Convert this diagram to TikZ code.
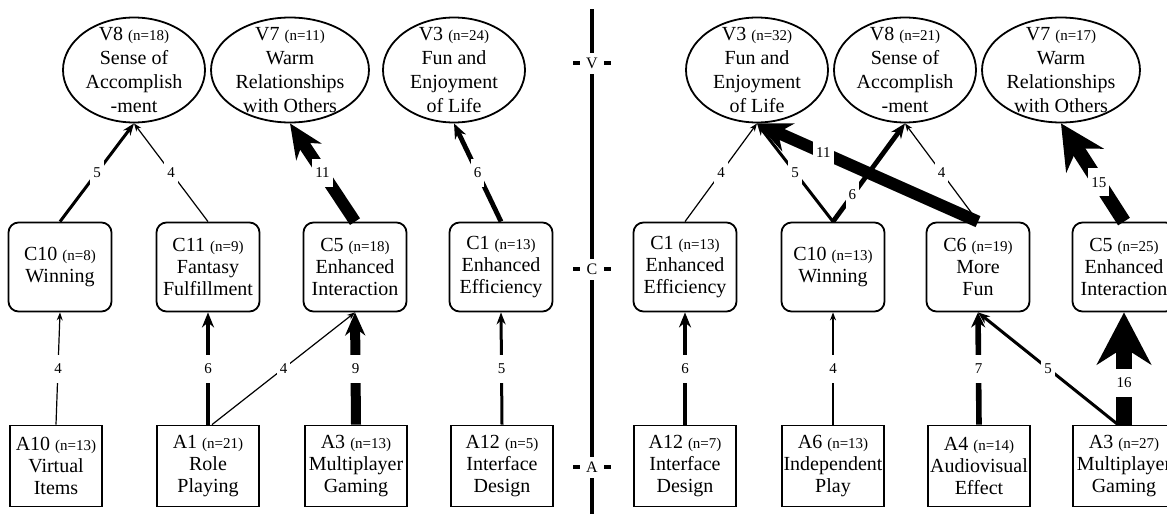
\documentclass[tikz,border=0pt]{standalone}
\usepackage{fontspec}
\setmainfont{Liberation Serif}
\usetikzlibrary{shapes.geometric}
\usetikzlibrary{arrows.meta}
\usetikzlibrary{positioning}

\newcommand{\ncount}[1]{{\fontsize{7.5pt}{9pt}\selectfont (n=#1)}}

\tikzset{
  valnode/.style={ellipse, draw, line width=0.9pt, align=center, font=\fontsize{10pt}{12pt}\selectfont,
    inner xsep=0.7pt, inner ysep=-5pt, minimum width=71pt, minimum height=52.5pt},
  consnode/.style={rectangle, rounded corners=5pt, draw, line width=0.9pt, align=center,
    font=\fontsize{10pt}{11pt}\selectfont, inner sep=0pt, minimum width=51.5pt, minimum height=44.5pt},
  attrnode/.style={rectangle, draw, line width=0.9pt, align=center,
    font=\fontsize{10pt}{11pt}\selectfont, inner sep=0pt, minimum width=51pt, minimum height=40.5pt},
  lnk/.style={fill=white, font=\fontsize{7.5pt}{9pt}\selectfont, inner xsep=1.5pt, inner ysep=0pt, minimum height=14pt},
  axlabel/.style={fill=white, font=\fontsize{8pt}{9pt}\selectfont, inner sep=0pt, minimum width=12pt, minimum height=10.5pt},
  w4/.style={line width=0.6pt, -{Stealth[length=4pt, width=3pt]}},
  w5/.style={line width=1.5pt, -{Stealth[length=6pt, width=4.5pt]}},
  w6/.style={line width=2.4pt, -{Stealth[length=7.5pt, width=6pt]}},
  w7/.style={line width=2.8pt, -{Stealth[length=7.5pt, width=7pt]}},
  w9/.style={line width=5pt, -{Stealth[length=11.5pt, width=10pt]}},
  w11/.style={line width=6pt, -{Stealth[length=17pt, width=15pt]}},
  w15/.style={line width=7pt, -{Stealth[length=22pt, width=22pt]}},
  w16/.style={line width=8pt, -{Stealth[length=26pt, width=27pt]}}
}

\begin{document}
\begin{tikzpicture}[x=0.5pt, y=-0.5pt, every node/.style={scale=1}]
\useasboundingbox (0,0) rectangle (1167,514);

% axis
\coordinate (axtop) at (592,9);
\coordinate (axbot) at (592,514);
\draw[line width=2.3pt] (axtop) -- (axbot);
\node(axV)[axlabel] at (592,63) {V};
\node(axC)[axlabel] at (592,269) {C};
\node(axA)[axlabel] at (592,467) {A};
\foreach \lev in {axV, axC, axA} {
  \draw[line width=2pt] (\lev.west) -- ++(-7,0);
  \draw[line width=2pt] (\lev.east) -- ++(7,0);
}

% left ladder
\node(vL8)[valnode] at (134,70) {V8 \ncount{18}\\Sense of\\Accomplish\\-ment};
\node(vL7)[valnode] at (290,70) {V7 \ncount{11}\\Warm\\Relationships\\with Others};
\node(vL3)[valnode] at (454,70) {V3 \ncount{24}\\Fun and\\Enjoyment\\of Life};

\node(cL10)[consnode] at (60,267) {C10 \ncount{8}\\Winning};
\node(cL11)[consnode] at (208,267) {C11 \ncount{9}\\Fantasy\\Fulfillment};
\node(cL5)[consnode] at (355,267) {C5 \ncount{18}\\Enhanced\\Interaction};
\node(cL1)[consnode] at (501,267) {C1 \ncount{13}\\Enhanced\\Efficiency};

\node(aL10)[attrnode, minimum width=46pt] at (56,466) {A10 \ncount{13}\\Virtual\\Items};
\node(aL1)[attrnode] at (208,466) {A1 \ncount{21}\\Role\\Playing};
\node(aL3)[attrnode] at (356,466) {A3 \ncount{13}\\Multiplayer\\Gaming};
\node(aL12)[attrnode] at (502,466) {A12 \ncount{5}\\Interface\\Design};

\draw[w5] (cL10.north) -- node[lnk] {5} (vL8.south);
\draw[w4] (cL11.north) -- node[lnk] {4} (vL8.south);
\draw[w11] (cL5.north) -- node[lnk] {11} (vL7.south);
\draw[w6] (cL1.north) -- node[lnk] {6} (vL3.south);

\draw[w4] (aL10.north) -- node[lnk] {4} (cL10.south);
\draw[w6] (aL1.north) -- node[lnk] {6} (cL11.south);
\draw[w4] ([xshift=2pt]aL1.north) -- node[lnk] {4} (cL5.south);
\draw[w9] (aL3.north) -- node[lnk] {9} (cL5.south);
\draw[w5] (aL12.north) -- node[lnk] {5} (cL1.south);

% right ladder
\node(vR3)[valnode] at (757,70) {V3 \ncount{32}\\Fun and\\Enjoyment\\of Life};
\node(vR8)[valnode] at (905,70) {V8 \ncount{21}\\Sense of\\Accomplish\\-ment};
\node(vR7)[valnode] at (1061,70) {V7 \ncount{17}\\Warm\\Relationships\\with Others};

\node(cR1)[consnode] at (685,267) {C1 \ncount{13}\\Enhanced\\Efficiency};
\node(cR10)[consnode] at (833,267) {C10 \ncount{13}\\Winning};
\node(cR6)[consnode] at (978,267) {C6 \ncount{19}\\More\\Fun};
\node(cR5)[consnode] at (1124,267) {C5 \ncount{25}\\Enhanced\\Interaction};

\node(aR12)[attrnode] at (685,466) {A12 \ncount{7}\\Interface\\Design};
\node(aR6)[attrnode] at (833,466) {A6 \ncount{13}\\Independent\\Play};
\node(aR4)[attrnode] at (979,466) {A4 \ncount{14}\\Audiovisual\\Effect};
\node(aR3)[attrnode] at (1124,466) {A3 \ncount{27}\\Multiplayer\\Gaming};

\draw[w4] (cR1.north) -- node[lnk] {4} (vR3.south);
\draw[w5] (cR10.north) -- node[lnk] {5} (vR3.south);
\draw[w6] (cR10.north) -- node[lnk, pos=0.27] {6} (vR8.south);
\draw[w4] (cR6.north) -- node[lnk] {4} (vR8.south);
\draw[w11] (cR6.north) -- node[lnk, pos=0.7] {11} (vR3.south);
\draw[w15] (cR5.north) -- node[lnk, pos=0.4] {15} (vR7.south);

\draw[w6] (aR12.north) -- node[lnk] {6} (cR1.south);
\draw[w4] (aR6.north) -- node[lnk] {4} (cR10.south);
\draw[w7] (aR4.north) -- node[lnk] {7} (cR6.south);
\draw[w5] ([xshift=-3pt]aR3.north) -- node[lnk] {5} (cR6.south);
\draw[w16] (aR3.north) -- node[lnk, pos=0.37] {16} (cR5.south);
\end{tikzpicture}
\end{document}
